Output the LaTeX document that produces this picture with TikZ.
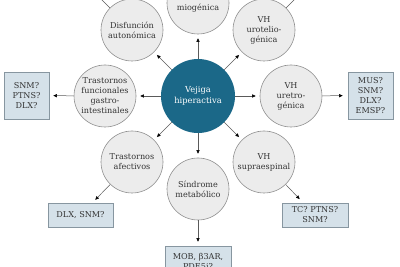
\documentclass[tikz,border=0pt]{standalone}
\usepackage{fontspec}
\setmainfont{DejaVu Serif}
\usetikzlibrary{arrows.meta}
\definecolor{hubcol}{HTML}{1B6888}
\definecolor{circfill}{HTML}{ECECEC}
\definecolor{circdraw}{HTML}{8E8E8E}
\definecolor{boxfill}{HTML}{D5E1E9}
\definecolor{boxdraw}{HTML}{8796A0}
\definecolor{linecol}{HTML}{5A5A5A}
\definecolor{txtcol}{HTML}{333333}
\begin{document}
\begin{tikzpicture}[x=1pt,y=-1pt,
  txt/.style={font=\fontsize{8.1}{10}\selectfont, align=center},
  outer/.style={txt, circle, draw=circdraw, fill=circfill, line width=0.6pt, minimum size=62pt, inner sep=0pt, text=txtcol},
  hub/.style={txt, circle, fill=hubcol, minimum size=74pt, inner sep=0pt, text=white, font=\fontsize{8.3}{11}\selectfont},
  tbox/.style={txt, draw=boxdraw, fill=boxfill, line width=0.6pt, inner sep=1pt, text=txtcol},
  arr/.style={draw=linecol, line width=0.5pt, -{Triangle[length=3.6pt,width=3.2pt,color=black]}},
]
\useasboundingbox (0,0) rectangle (400,267);
\clip (0,0) rectangle (400,267);

\node[hub] (h) at (198,96) {Vejiga\\hiperactiva};

\node[outer] (mio) at (198,3) {VH\\miogénica};
\node[outer] (uro) at (264,30) {VH\\urotelio-\\génica};
\node[outer] (ure) at (291,96) {VH\\uretro-\\génica};
\node[outer] (sup) at (264,162) {VH\\supraespinal};
\node[outer] (met) at (198,189) {Síndrome\\metabólico};
\node[outer] (afe) at (132,162) {Trastornos\\afectivos};
\node[outer] (gas) at (105,96) {Trastornos\\funcionales\\gastro-\\intestinales};
\node[outer] (aut) at (132,30) {Disfunción\\autonómica};

\node[tbox, minimum width=45pt, minimum height=47pt] (bl) at (26.5,95.5) {SNM?\\PTNS?\\DLX?};
\node[tbox, minimum width=45pt, minimum height=47pt] (br) at (370.5,95.5) {MUS?\\SNM?\\DLX?\\EMSP?};
\node[tbox, minimum width=65pt, minimum height=24pt] (bafe) at (80.5,215) {DLX, SNM?};
\node[tbox, minimum width=66pt, minimum height=24pt] (bsup) at (315,215) {TC? PTNS?\\SNM?};
\node[tbox, minimum width=66pt, minimum height=30pt] (bmet) at (198,261) {MOB, β3AR,\\PDE5i?};

\coordinate (tl) at (84,-18);
\coordinate (tr) at (312,-18);

\foreach \n in {mio,uro,ure,sup,met,afe,gas,aut}
  \draw[arr, shorten >=4pt] (h) -- (\n);

\draw[arr, shorten >=4pt] (gas) -- (bl);
\draw[arr, shorten >=5pt] (ure) -- (br);
\draw[arr, shorten >=4pt] (afe) -- (bafe);
\draw[arr, shorten >=5pt] (sup) -- (bsup);
\draw[arr, shorten >=4pt] (met) -- (bmet);
\draw[arr] (aut) -- (tl);
\draw[arr] (uro) -- (tr);
\end{tikzpicture}
\end{document}
